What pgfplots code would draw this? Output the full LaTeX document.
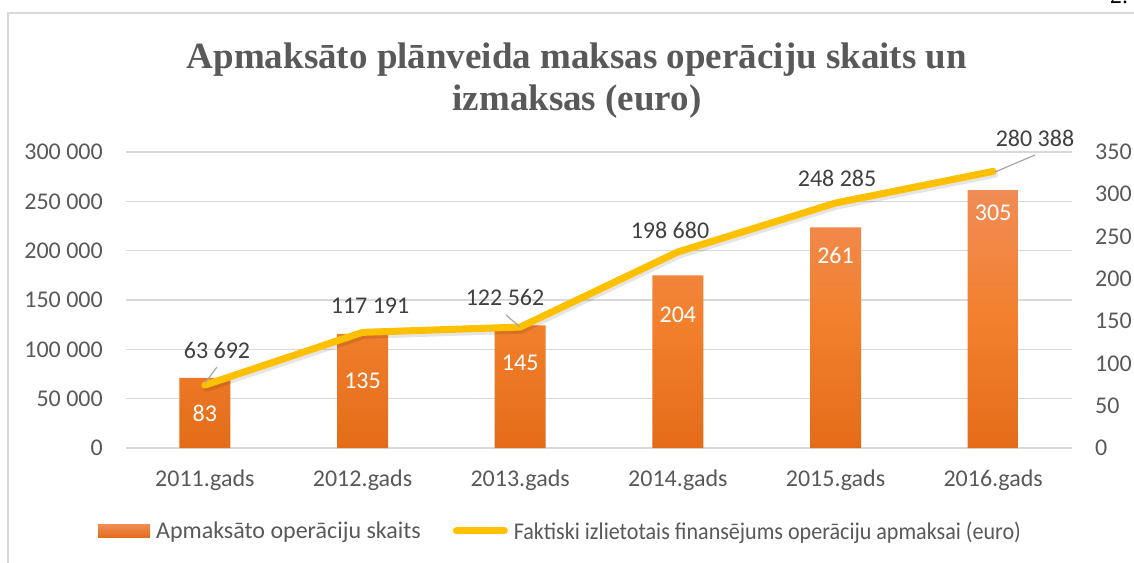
\documentclass[border=0pt]{standalone}
\usepackage{pgfplots}
\pgfplotsset{compat=1.18}
\usepackage{graphicx}
\usepackage{fontspec}
\setmainfont{Carlito}
\newfontfamily\titlefont{Liberation Serif}
\definecolor{tgray}{HTML}{595959}
\definecolor{lgray}{HTML}{404040}
\definecolor{gridc}{HTML}{D9D9D9}
\definecolor{leadc}{HTML}{A6A6A6}
\definecolor{lineY}{HTML}{FFC000}
\definecolor{barTop}{RGB}{240,140,85}
\definecolor{barMid}{RGB}{242,128,45}
\definecolor{barBot}{RGB}{228,108,25}
\newcommand{\tfs}{\fontsize{24}{28}\selectfont}
\pgfplotsset{
  common/.style={
    at={(126pt,114pt)}, anchor=south west, scale only axis,
    width=946pt, height=296pt, xmin=-0.5, xmax=5.5, clip=false,
    major tick length=0pt, tick style={draw=none},
    scaled y ticks=false,
    ticklabel style={font=\tfs, text=tgray},
  }
}
\begin{document}
\begin{tikzpicture}[x=1pt,y=1pt]
\useasboundingbox (0,0) rectangle (1134,562);
\fill[white] (0,0) rectangle (1134,562);
\draw[gridc, line width=1.5pt] (8,-5) -- (8,549) -- (1140,549);
\node[anchor=base west, font=\titlefont\fontsize{24}{28}\selectfont, inner sep=0pt] at (1110,558) {2.};
\node[font=\titlefont\bfseries\fontsize{37}{42}\selectfont, text=tgray, anchor=base, inner sep=0pt] at (577,493) {Apmaksāto plānveida maksas operāciju skaits un};
\node[font=\titlefont\bfseries\fontsize{37}{42}\selectfont, text=tgray, anchor=base, inner sep=0pt] at (577,451) {izmaksas (euro)};

% Axis A: grid, left ticks, categories
\begin{axis}[common,
  ymin=0, ymax=300000,
  axis line style={draw=none},
  ymajorgrids, grid style={gridc, line width=1.2pt},
  ytick={0,50000,100000,150000,200000,250000,300000},
  yticklabels={0,50 000,100 000,150 000,200 000,250 000,300 000},
  yticklabel style={anchor=east, inner sep=0pt, xshift=-23pt},
  xtick={0,1,2,3,4,5},
  xticklabels={2011.gads,2012.gads,2013.gads,2014.gads,2015.gads,2016.gads},
  xticklabel style={anchor=base, inner sep=0pt, yshift=-38pt},
]
\addplot[draw=none, forget plot] coordinates {(0,0) (5,0)};
\end{axis}

% Axis B: bars on right axis
\begin{axis}[common,
  ymin=0, ymax=350,
  axis x line=none, axis y line*=right, axis line style={draw=none},
  xtick=\empty,
  ytick={0,50,100,150,200,250,300,350},
  yticklabels={0,50,100,150,200,250,300,350},
  yticklabel style={anchor=west, inner sep=0pt, xshift=23pt},
]
\addplot[ybar, bar width=51pt, draw=none, top color=barTop, bottom color=barBot, middle color=barMid]
  coordinates {(0,83) (1,135) (2,145) (3,204) (4,261) (5,305)};
\node[font=\tfs, text=white] at (axis cs:0,41.4) {83};
\node[font=\tfs, text=white] at (axis cs:1,79.2) {135};
\node[font=\tfs, text=white] at (axis cs:2,100.5) {145};
\node[font=\tfs, text=white] at (axis cs:3,157.3) {204};
\node[font=\tfs, text=white] at (axis cs:4,228.2) {261};
\node[font=\tfs, text=white] at (axis cs:5,277.9) {305};
\end{axis}

% Axis C: line on left axis
\begin{axis}[common,
  ymin=0, ymax=300000, hide axis,
  legend style={at={(0.4583,-0.2804)}, anchor=center, draw=none, fill=none,
    legend columns=2, font=\tfs, text=tgray, inner sep=0pt,
    nodes={inner sep=0pt, anchor=west},
    /tikz/every odd column/.append style={column sep=6pt},
    /tikz/every even column/.append style={column sep=32pt}},
]
\addlegendimage{legend image code/.code={\fill[draw=none, top color=barTop, bottom color=barBot] (0pt,-6.5pt) rectangle (52pt,6.5pt);}}
\addlegendentry{Apmaksāto operāciju skaits}
\addplot[black, opacity=0.10, line width=7pt, line join=round, line cap=round, yshift=-3pt, xshift=1.5pt, forget plot]
  coordinates {(0,63692) (1,117191) (2,122562) (3,198680) (4,248285) (5,280388)};
\addplot[lineY, line width=7pt, line join=round, line cap=round,
  legend image code/.code={\draw[lineY, line width=7pt, line cap=round] (4pt,0pt) -- (52pt,0pt);}]
  coordinates {(0,63692) (1,117191) (2,122562) (3,198680) (4,248285) (5,280388)};
\addlegendentry{\scalebox{0.92}[1]{Faktiski izlietotais finansējums operāciju apmaksai (euro)}}
\node[font=\tfs, text=lgray] at (axis cs:0.077,99324) {63 692};
\node[font=\tfs, text=lgray] at (axis cs:1.048,143919) {117 191};
\node[font=\tfs, text=lgray] at (axis cs:1.904,153041) {122 562};
\node[font=\tfs, text=lgray] at (axis cs:2.950,220946) {198 680};
\node[font=\tfs, text=lgray] at (axis cs:4.010,273649) {248 285};
\node[font=\tfs, text=lgray] at (axis cs:5.265,314189) {280 388};
\end{axis}
\draw[leadc, line width=1.2pt] (205,179) -- (217,195);
\draw[leadc, line width=1.2pt] (506,247) -- (520,235);
\draw[leadc, line width=1.2pt] (995,390) -- (1035,407);
\end{tikzpicture}
\end{document}
